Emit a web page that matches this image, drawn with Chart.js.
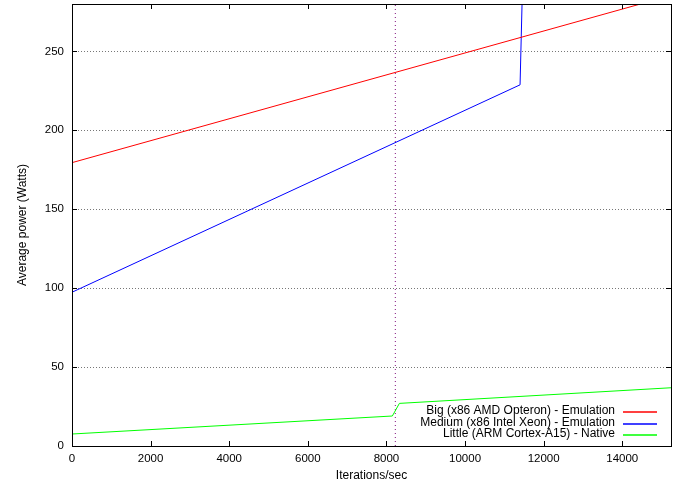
<!DOCTYPE html>
<html>
<head>
<meta charset="utf-8">
<script src="https://cdn.jsdelivr.net/npm/chart.js@4/dist/chart.umd.min.js"></script>
<style>
  html, body { margin: 0; padding: 0; background: #fff; }
  #wrap { width: 683px; height: 483px; }
</style>
</head>
<body>
<div id="wrap"><canvas id="chart" width="683" height="483"></canvas></div>
<script>
// Values
const seriesLabels = [
    'Big (x86 AMD Opteron) - Emulation',
    'Medium (x86 Intel Xeon) - Emulation',
    'Little (ARM Cortex-A15) - Native'
];
const seriesColors = ['#ff0000', '#0000ff', '#00ff00'];

const bigX = [0, 15240];
const bigY = [179.5, 285.4];
const mediumX = [0, 11400, 11460];
const mediumY = [97.4, 228.8, 290];
const littleX = [0, 8150, 8330, 15240];
const littleY = [7.6, 19.0, 27.0, 36.9];

const markerX = 8226;          // vertical dotted line
const xTicks = [0, 2000, 4000, 6000, 8000, 10000, 12000, 14000];
const yTicks = [0, 50, 100, 150, 200, 250];
const xMax = 15240;
const yMax = 280;

const FONT = 'Liberation Sans, Arial, Helvetica, sans-serif';

function pts(xs, ys) {
    return xs.map((x, i) => ({ x: x, y: ys[i] }));
}

const frame = {
    id: 'frame',
    afterDraw(chart) {
        const ctx = chart.ctx;
        const a = chart.chartArea;
        const xs = chart.scales.x, ys = chart.scales.y;
        ctx.save();
        ctx.setLineDash([]);
        ctx.strokeStyle = '#000';
        ctx.lineWidth = 1;
        ctx.beginPath();
        // inward tick marks, mirrored on the opposite side
        xTicks.forEach(v => {
            const px = Math.round(xs.getPixelForValue(v)) + 0.5;
            ctx.moveTo(px, a.bottom); ctx.lineTo(px, a.bottom - 5);
            ctx.moveTo(px, a.top); ctx.lineTo(px, a.top + 5);
        });
        yTicks.forEach(v => {
            const py = Math.round(ys.getPixelForValue(v)) + 0.5;
            ctx.moveTo(a.left, py); ctx.lineTo(a.left + 5, py);
            ctx.moveTo(a.right, py); ctx.lineTo(a.right - 5, py);
        });
        ctx.stroke();
        ctx.strokeRect(Math.round(a.left) + 0.5, Math.round(a.top) + 0.5,
            Math.round(a.right - a.left), Math.round(a.bottom - a.top));

        // legend: text right-aligned with sample line on the right
        ctx.font = '12px ' + FONT;
        ctx.textAlign = 'right';
        ctx.textBaseline = 'middle';
        const rowY = [411, 422.5, 434];
        seriesLabels.forEach((lab, i) => {
            ctx.fillStyle = '#000';
            ctx.fillText(lab, 615, rowY[i]);
            ctx.beginPath();
            ctx.lineWidth = 1.4;
            ctx.strokeStyle = seriesColors[i];
            ctx.moveTo(623, Math.round(rowY[i]) + 1);
            ctx.lineTo(657, Math.round(rowY[i]) + 1);
            ctx.stroke();
        });
        ctx.restore();
    }
};

const datasets = [
    { data: pts(bigX, bigY) },
    { data: pts(mediumX, mediumY) },
    { data: pts(littleX, littleY) }
].map((d, i) => Object.assign(d, {
    label: seriesLabels[i],
    borderColor: seriesColors[i],
    borderWidth: 1,
    pointRadius: 0,
    showLine: true,
    fill: false,
    tension: 0
}));

datasets.push({
    label: 'marker',
    data: [{ x: markerX, y: 0 }, { x: markerX, y: yMax }],
    borderColor: '#80107f',
    borderWidth: 1,
    borderDash: [1, 3],
    pointRadius: 0,
    showLine: true
});

new Chart(document.getElementById('chart'), {
    type: 'scatter',
    data: { datasets: datasets },
    options: {
        responsive: false,
        animation: false,
        layout: { autoPadding: false, padding: { left: 0, right: 12, top: 4, bottom: 0 } },
        plugins: { legend: { display: false }, tooltip: { enabled: false } },
        scales: {
            x: {
                type: 'linear',
                min: 0,
                max: xMax,
                afterBuildTicks: s => { s.ticks = xTicks.map(v => ({ value: v })); },
                afterFit: s => { s.height = 37; s.paddingLeft = 0; s.paddingRight = 0; },
                grid: { display: false, drawTicks: false },
                border: { display: false },
                ticks: {
                    color: '#000', font: { family: FONT, size: 11.5 }, padding: 6, maxRotation: 0,
                    callback: v => String(v)
                },
                title: {
                    display: true, text: 'Iterations/sec', color: '#000',
                    font: { family: FONT, size: 12 }, padding: { top: 1, bottom: 0 }
                }
            },
            y: {
                type: 'linear',
                min: 0,
                max: yMax,
                afterBuildTicks: s => { s.ticks = yTicks.map(v => ({ value: v })); },
                afterFit: s => { s.width = 72; s.paddingTop = 0; s.paddingBottom = 0; },
                grid: {
                    drawTicks: false,
                    color: c => c.tick && c.tick.value === 0 ? 'rgba(0,0,0,0)' : '#777',
                    lineWidth: 1
                },
                border: { display: false, dash: [1, 2] },
                ticks: {
                    color: '#000', font: { family: FONT, size: 11.5 }, padding: 8,
                    callback: v => String(v)
                },
                title: {
                    display: true, text: 'Average power (Watts)', color: '#000',
                    font: { family: FONT, size: 12 }, padding: { top: 15, bottom: 0 }
                }
            }
        }
    },
    plugins: [frame]
});
</script>
</body>
</html>
